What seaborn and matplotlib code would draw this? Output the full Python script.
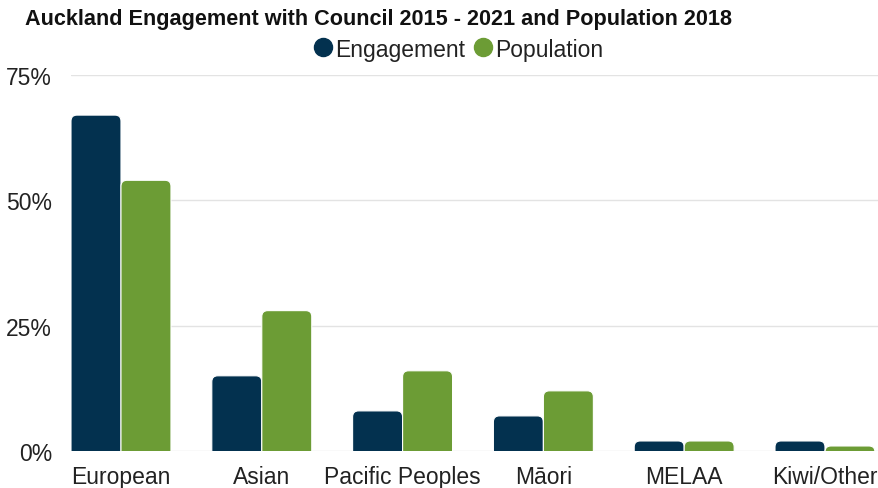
import matplotlib
matplotlib.use("Agg")
import matplotlib.pyplot as plt
from matplotlib.lines import Line2D
from matplotlib.patches import FancyBboxPatch
import seaborn as sns
import pandas as pd

categories = ["European", "Asian", "Pacific Peoples", "Māori", "MELAA", "Kiwi/Other"]
engagement = [67, 15, 8, 7, 2, 2]
population = [54, 28, 16, 12, 2, 1]
series_names = ["Engagement", "Population"]
y_ticks = [0, 25, 50, 75]
y_tick_labels = ["0%", "25%", "50%", "75%"]

colors = {"Engagement": "#03314F", "Population": "#6C9C35"}

df = pd.DataFrame({
    "Category": categories * 2,
    "Value": engagement + population,
    "Series": [series_names[0]] * len(categories) + [series_names[1]] * len(categories),
})

sns.set_theme(style="white")
plt.rcParams['font.family'] = ['Liberation Sans', 'DejaVu Sans']

W, H = 879, 489
ax_l, ax_b, ax_w, ax_h = 71, 37, 808, 376
px_per_x = 140.8
fig = plt.figure(figsize=(W / 100, H / 100), dpi=100)
ax = fig.add_axes([ax_l / W, ax_b / H, ax_w / W, ax_h / H])

sns.barplot(data=df, x="Category", y="Value", hue="Series", order=categories,
            hue_order=series_names, palette=colors, saturation=1, width=0.71, gap=0,
            edgecolor="white", linewidth=0.8, ax=ax, legend=False)

ax.set_xlim(-0.355, -0.355 + ax_w / px_per_x)
ymax = 75
ax.set_ylim(0, ymax)

# Round the top corners of the bars (bottom extends below the axis and is clipped)
px_per_y = ax_h / ymax
radius_px = 6
aspect = px_per_x / px_per_y
for p in list(ax.patches):
    x, y = p.get_x(), p.get_y()
    w, h = p.get_width(), p.get_height()
    if h <= 0:
        continue
    ext = radius_px / px_per_y
    fb = FancyBboxPatch((x, y - ext), w, h + ext,
                        boxstyle=f"round,pad=0,rounding_size={radius_px / px_per_x}",
                        mutation_aspect=aspect,
                        facecolor=p.get_facecolor(), edgecolor="white", linewidth=0.8,
                        zorder=p.get_zorder())
    p.set_visible(False)
    ax.add_patch(fb)

ax.set_yticks(y_ticks)
ax.set_yticklabels(y_tick_labels)
ax.yaxis.grid(True, color="#e3e3e3", linewidth=1)
ax.set_axisbelow(True)
for s in ax.spines.values():
    s.set_visible(False)
ax.set_xlabel("")
ax.set_ylabel("")
ax.tick_params(axis="y", length=0, pad=13.5, labelsize=16.5, labelcolor="#222222")
ax.tick_params(axis="x", length=0, pad=10, labelsize=16.5, labelcolor="#222222")

fig.text(25 / W, 1 - 19 / H, "Auckland Engagement with Council 2015 - 2021 and Population 2018",
         fontsize=15.6, fontweight="bold", color="#111111", va="center", ha="left")

handles = [Line2D([0], [0], marker="o", linestyle="", markersize=13,
                  markerfacecolor=colors[n], markeredgecolor=colors[n]) for n in series_names]
fig.legend(handles, series_names, loc="center", bbox_to_anchor=(458 / W, 1 - 50 / H),
           ncol=2, frameon=False, fontsize=16.5, handletextpad=0.1, columnspacing=0.3,
           handlelength=0.9, labelcolor="#222222")

fig.savefig("out.png", dpi=100)
